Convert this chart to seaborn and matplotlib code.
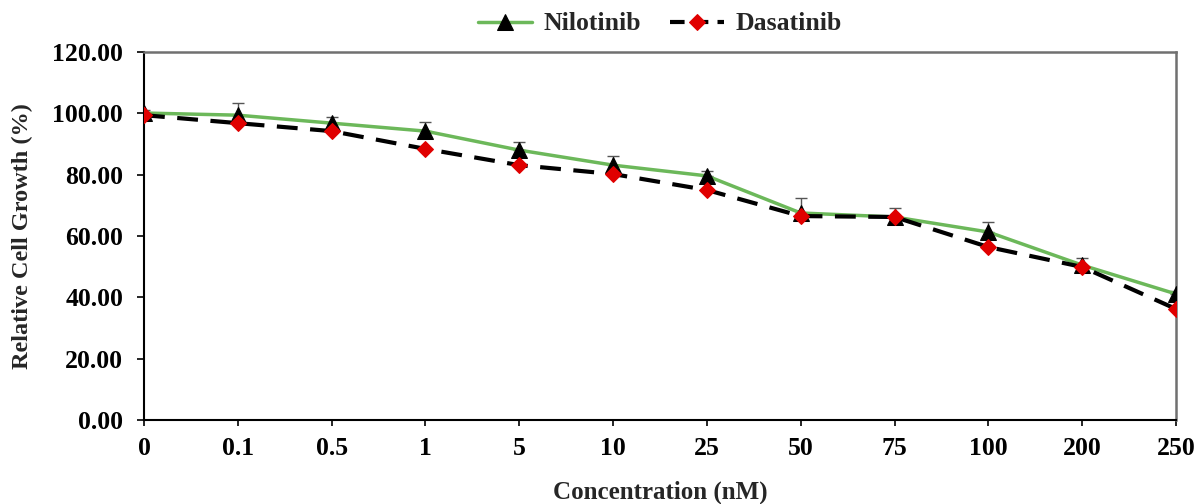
import matplotlib
matplotlib.use("Agg")
import matplotlib.pyplot as plt
import seaborn as sns
import pandas as pd
import numpy as np

concentrations = ["0", "0.1", "0.5", "1", "5", "10", "25", "50", "75", "100", "200", "250"]
nilotinib = [100.1, 99.4, 96.8, 94.2, 88.0, 83.1, 79.6, 67.5, 66.2, 61.3, 50.5, 41.1]
nilotinib_err = [1.0, 4.0, 2.0, 3.0, 2.6, 3.0, 1.6, 4.9, 2.9, 3.3, 2.3, 1.0]
dasatinib = [99.4, 96.8, 94.2, 88.4, 83.1, 80.2, 75.0, 66.5, 66.2, 56.4, 49.9, 36.2]
y_ticks = [0, 20, 40, 60, 80, 100, 120]

sns.set_theme(style="white")
plt.rcParams['font.family'] = ['Liberation Serif', 'DejaVu Serif']
plt.rcParams['font.weight'] = 'bold'

pos = np.arange(len(concentrations))
df = pd.DataFrame({"pos": pos, "Nilotinib": nilotinib, "Dasatinib": dasatinib})

fig = plt.figure(figsize=(11.98, 5.04), dpi=100)
ax = fig.add_axes([144/1198, 1 - 420/504, (1176-144)/1198, (420-52)/504])

green = "#6cb85a"
ax.errorbar(pos, nilotinib, yerr=[np.zeros(len(nilotinib)), nilotinib_err], fmt="none",
            ecolor="#555555", elinewidth=1, capsize=4, capthick=1, zorder=2)
sns.lineplot(data=df, x="pos", y="Nilotinib", ax=ax, color=green, lw=2.5,
             marker="^", markersize=11, markerfacecolor="black", markeredgecolor="black",
             label="Nilotinib", zorder=3)
sns.lineplot(data=df, x="pos", y="Dasatinib", ax=ax, color="black", lw=3,
             marker="D", markersize=8, markerfacecolor="#e00000", markeredgecolor="#e00000",
             label="Dasatinib", zorder=4)
ax.lines[-1].set_dashes([5, 3])

ax.set_xlim(0, 11)
ax.set_ylim(0, 120)
ax.set_xticks(pos)
ax.set_xticklabels(concentrations)
ax.set_yticks(y_ticks)
ax.set_yticklabels([f"{v:.2f}" for v in y_ticks])
ax.tick_params(axis="both", which="major", labelsize=18.5, direction="out",
               width=1.2, colors="black", bottom=True, left=True)
ax.tick_params(axis="x", pad=8, length=4)
ax.tick_params(axis="y", pad=10, length=5)
for lbl in ax.get_xticklabels() + ax.get_yticklabels():
    lbl.set_fontweight("bold")

for side in ["left", "bottom"]:
    ax.spines[side].set_color("black")
    ax.spines[side].set_linewidth(1.5)
for side in ["top", "right"]:
    ax.spines[side].set_color("#707070")
    ax.spines[side].set_linewidth(1.8)

ax.set_xlabel("Concentration (nM)", fontsize=18, fontweight="bold", va="center")
ax.set_ylabel("Relative Cell Growth (%)", fontsize=17.5, fontweight="bold", va="center")
ax.xaxis.set_label_coords(0.5, -(492 - 420) / 368)
ax.yaxis.set_label_coords(-(144 - 22) / 1032, 0.5)

leg = ax.legend(loc="center", bbox_to_anchor=(0.5, 1 + (52 - 24) / 368), ncol=2, frameon=False,
                fontsize=18.5, handlelength=2.1, columnspacing=1.1, handletextpad=0.45,
                borderaxespad=0.0)
for t in leg.get_texts():
    t.set_fontweight("bold")
leg_lines = leg.get_lines()
if len(leg_lines) > 1:
    leg_lines[1].set_dashes([3.5, 2.2])

fig.savefig("out.png", dpi=100)
